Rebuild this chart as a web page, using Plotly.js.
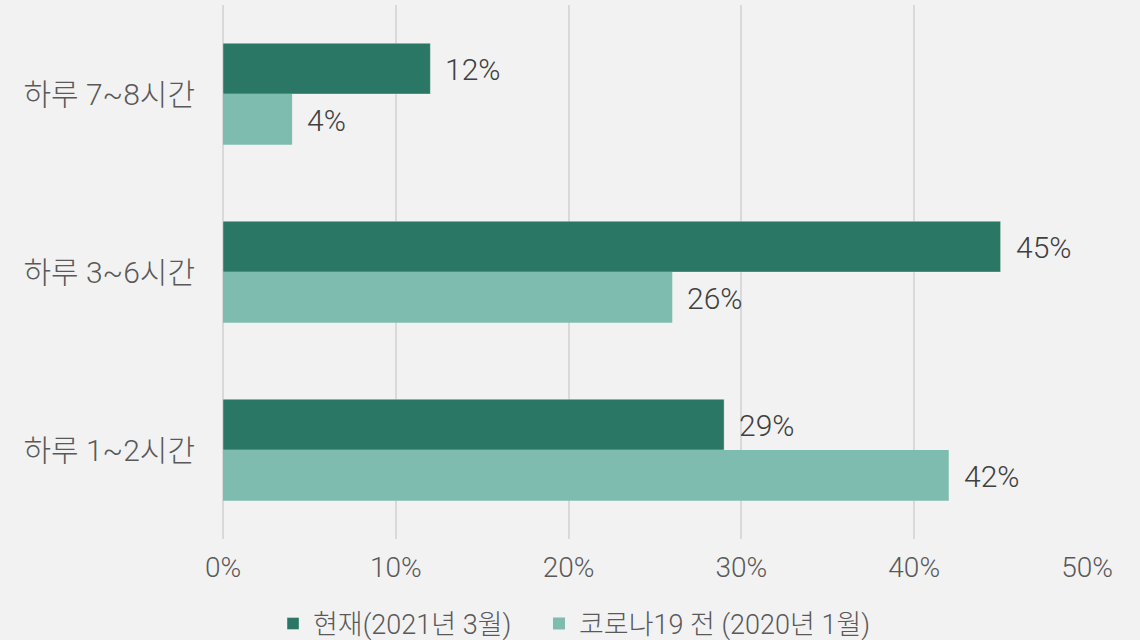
<!DOCTYPE html>
<html><head><meta charset="utf-8">
<script src="https://cdn.plot.ly/plotly-3.0.1.min.js"></script>
<style>html,body{margin:0;padding:0;background:#f2f2f2;}</style>
</head><body>
<div id="chart" style="width:1140px;height:640px;"></div>
<script>
const categories = ['하루 7~8시간', '하루 3~6시간', '하루 1~2시간'];
const seriesNames = ['현재(2021년 3월)', '코로나19 전 (2020년 1월)'];
const currentValues = [12, 45, 29];
const beforeValues = [4, 26, 42];
const xTickVals = [0, 10, 20, 30, 40, 50];
const xTickText = ['0%', '10%', '20%', '30%', '40%', '50%'];

const FONT = "Roboto, 'Noto Sans CJK KR', sans-serif";
const traces = [
  {type:'bar', orientation:'h', name:seriesNames[0], y:categories, x:currentValues, legend:'legend',
   marker:{color:'#2a7766', line:{color:'rgba(255,255,255,0.35)', width:1}}, hoverinfo:'x+y'},
  {type:'bar', orientation:'h', name:seriesNames[1], y:categories, x:beforeValues, legend:'legend2',
   marker:{color:'#7fbcb0'}, hoverinfo:'x+y'}
];
const annotations = [];
categories.forEach((c,i)=>{
  annotations.push({x:currentValues[i], y:c, text:currentValues[i]+'%', showarrow:false, xanchor:'left', xshift:13, yshift:25, font:{family:FONT, size:30, weight:300, color:'#404040'}});
  annotations.push({x:beforeValues[i], y:c, text:beforeValues[i]+'%', showarrow:false, xanchor:'left', xshift:13, yshift:-26, font:{family:FONT, size:30, weight:300, color:'#404040'}});
});
const legendBase = {orientation:'h', xref:'container', xanchor:'left', yref:'container', y:0.025, yanchor:'middle',
          font:{family:FONT, size:27, weight:300, color:'#595959'}, itemwidth:30, bgcolor:'rgba(0,0,0,0)'};
const layout = {
  width:1140, height:640,
  paper_bgcolor:'#f2f2f2', plot_bgcolor:'#f2f2f2',
  margin:{l:223, r:53, t:5, b:101, autoexpand:false},
  barmode:'group', bargap:0.43, bargroupgap:0,
  font:{family:FONT, color:'#595959'},
  xaxis:{range:[0,50], tickvals:xTickVals, ticktext:xTickText, showgrid:true, gridcolor:'#d9d9d9', gridwidth:2,
         zeroline:true, zerolinecolor:'#d9d9d9', zerolinewidth:2, showline:false, ticks:'',
         tickfont:{family:FONT, size:28, weight:300, color:'#595959'}, ticklabelstandoff:9, fixedrange:true},
  yaxis:{type:'category', autorange:'reversed', showgrid:false, zeroline:false, showline:false, ticks:'',
         tickfont:{family:FONT, size:30, weight:300, color:'#595959'}, ticklabelstandoff:27, fixedrange:true},
  showlegend:true,
  legend:Object.assign({}, legendBase, {x:0.2395}),
  legend2:Object.assign({}, legendBase, {x:0.4728}),
  annotations:annotations
};
Plotly.newPlot('chart', traces, layout, {displayModeBar:false, staticPlot:true});
</script>
</body></html>
